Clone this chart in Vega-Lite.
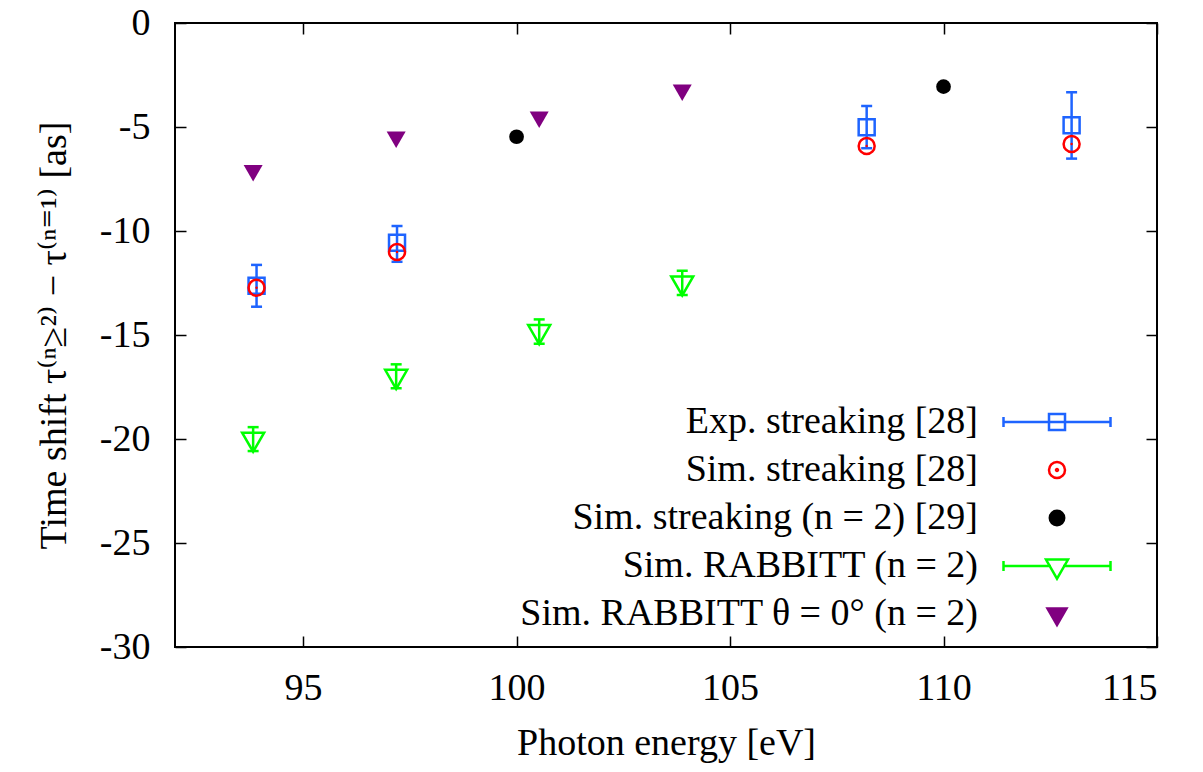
{
  "$schema": "https://vega.github.io/schema/vega-lite/v6.json",
  "width": 982,
  "height": 624,
  "autosize": {"type": "none"},
  "padding": {"left": 175, "top": 23, "right": 46, "bottom": 125},
  "background": "white",
  "config": {
    "view": {"stroke": "black", "strokeWidth": 2},
    "font": "Liberation Serif, DejaVu Serif, serif",
    "axis": {
      "labelFont": "Liberation Serif, DejaVu Serif, serif",
      "titleFont": "Liberation Serif, DejaVu Serif, serif",
      "labelFontSize": 38,
      "titleFontSize": 38,
      "titleFontWeight": "normal",
      "labelColor": "black",
      "titleColor": "black",
      "domain": false,
      "grid": false,
      "tickColor": "black",
      "tickWidth": 1.5,
      "tickSize": -11
    },
    "legend": {
      "orient": "none",
      "legendX": 863,
      "legendY": 380,
      "labelFont": "Liberation Serif, DejaVu Serif, serif",
      "labelFontSize": 38,
      "labelColor": "black",
      "labelAlign": "right",
      "labelOffset": -98,
      "labelLimit": 800,
      "symbolSize": 400,
      "symbolStrokeWidth": 2.5,
      "symbolOpacity": 1,
      "rowPadding": 10
    }
  },
  "data": {
    "values": [
      {"series": "Exp. streaking [28]", "energy": 93.91, "shift": -12.63, "lo": -13.64, "hi": -11.63},
      {"series": "Exp. streaking [28]", "energy": 97.2, "shift": -10.56, "lo": -11.48, "hi": -9.76},
      {"series": "Exp. streaking [28]", "energy": 108.2, "shift": -5.01, "lo": -6.02, "hi": -3.99},
      {"series": "Exp. streaking [28]", "energy": 113.0, "shift": -4.92, "lo": -6.52, "hi": -3.33},
      {"series": "Sim. streaking [28]", "energy": 93.91, "shift": -12.73},
      {"series": "Sim. streaking [28]", "energy": 97.2, "shift": -11.01},
      {"series": "Sim. streaking [28]", "energy": 108.2, "shift": -5.91},
      {"series": "Sim. streaking [28]", "energy": 113.0, "shift": -5.82},
      {"series": "Sim. streaking (n = 2) [29]", "energy": 100.0, "shift": -5.47},
      {"series": "Sim. streaking (n = 2) [29]", "energy": 110.0, "shift": -3.06},
      {"series": "Sim. RABBITT (n = 2)", "energy": 93.83, "shift": -20.0, "lo": -20.58, "hi": -19.43},
      {"series": "Sim. RABBITT (n = 2)", "energy": 97.18, "shift": -16.98, "lo": -17.56, "hi": -16.41},
      {"series": "Sim. RABBITT (n = 2)", "energy": 100.53, "shift": -14.83, "lo": -15.42, "hi": -14.25},
      {"series": "Sim. RABBITT (n = 2)", "energy": 103.88, "shift": -12.49, "lo": -13.08, "hi": -11.91},
      {"series": "Sim. RABBITT θ = 0° (n = 2)", "energy": 93.83, "shift": -7.09},
      {"series": "Sim. RABBITT θ = 0° (n = 2)", "energy": 97.18, "shift": -5.48},
      {"series": "Sim. RABBITT θ = 0° (n = 2)", "energy": 100.53, "shift": -4.52},
      {"series": "Sim. RABBITT θ = 0° (n = 2)", "energy": 103.88, "shift": -3.22}
    ]
  },
  "resolve": {"axis": {"x": "independent", "y": "independent"}},
  "layer": [
    {
      "transform": [{"filter": "datum.energy < 0"}],
      "mark": {"type": "point", "clip": true, "opacity": 1},
      "encoding": {
        "x": {"field": "energy", "type": "quantitative",
              "scale": {"domain": [92, 115], "nice": false, "zero": false},
              "axis": {"orient": "bottom", "values": [95, 100, 105, 110, 115], "title": "Photon energy [eV]", "labelPadding": 33, "titlePadding": 17}},
        "y": {"field": "shift", "type": "quantitative",
              "scale": {"domain": [-30, 0], "nice": false, "zero": false},
              "axis": {"orient": "left", "values": [0, -5, -10, -15, -20, -25, -30], "labelExpr": "toString(datum.value)", "title": "Time shift τ⁽ⁿ≥²⁾ − τ⁽ⁿ⁼¹⁾ [as]", "labelPadding": 36, "titlePadding": 26}},
        "shape": {"field": "series", "type": "nominal",
                  "scale": {"domain": ["Exp. streaking [28]", "Sim. streaking [28]", "Sim. streaking (n = 2) [29]", "Sim. RABBITT (n = 2)", "Sim. RABBITT θ = 0° (n = 2)"],
                            "range": [
                              "M-5.35,0H5.35M-5.35,-0.5V0.5M5.35,-0.5V0.5M-0.8,-0.8H0.8V0.8H-0.8Z",
                              "M0.8,0A0.8,0.8 0 1,1 -0.8,0A0.8,0.8 0 1,1 0.8,0ZM0.1,0A0.1,0.1 0 1,1 -0.1,0A0.1,0.1 0 1,1 0.1,0Z",
                              "M0.72,0A0.72,0.72 0 1,1 -0.72,0A0.72,0.72 0 1,1 0.72,0Z",
                              "M-5.35,0H-0.6M0.6,0H5.35M-5.35,-0.5V0.5M5.35,-0.5V0.5M-1.1,-0.64L1.1,-0.64L0,1.27Z",
                              "M-0.95,-0.55L0.95,-0.55L0,1.1Z"
                            ]},
                  "legend": {"title": null}},
        "stroke": {"field": "series", "type": "nominal",
                   "scale": {"domain": ["Exp. streaking [28]", "Sim. streaking [28]", "Sim. streaking (n = 2) [29]", "Sim. RABBITT (n = 2)", "Sim. RABBITT θ = 0° (n = 2)"],
                             "range": ["#1e64ff", "#ff0000", "#000000", "#00ff00", "#800080"]},
                   "legend": {"title": null}},
        "fill": {"field": "series", "type": "nominal",
                 "scale": {"domain": ["Exp. streaking [28]", "Sim. streaking [28]", "Sim. streaking (n = 2) [29]", "Sim. RABBITT (n = 2)", "Sim. RABBITT θ = 0° (n = 2)"],
                           "range": ["transparent", "transparent", "#000000", "transparent", "#800080"]},
                 "legend": {"title": null}}
      }
    },
    {
      "transform": [{"filter": "datum.energy < 0"}],
      "mark": {"type": "point"},
      "encoding": {
        "x": {"field": "energy", "type": "quantitative", "axis": {"orient": "top", "values": [95, 100, 105, 110, 115], "labels": false, "title": null}},
        "y": {"field": "shift", "type": "quantitative", "axis": {"orient": "right", "values": [0, -5, -10, -15, -20, -25, -30], "labels": false, "title": null}}
      }
    },
    {
      "transform": [{"filter": "datum.lo != null"}],
      "mark": {"type": "rule", "strokeWidth": 2.5},
      "encoding": {
        "x": {"field": "energy", "type": "quantitative", "axis": null},
        "y": {"field": "lo", "type": "quantitative", "axis": null},
        "y2": {"field": "hi"},
        "color": {"field": "series", "type": "nominal", "scale": {"domain": ["Exp. streaking [28]", "Sim. RABBITT (n = 2)"], "range": ["#1e64ff", "#00ff00"]}, "legend": null}
      }
    },
    {
      "transform": [{"filter": "datum.lo != null"}],
      "mark": {"type": "tick", "orient": "horizontal", "size": 11, "thickness": 2.5, "opacity": 1},
      "encoding": {
        "x": {"field": "energy", "type": "quantitative", "axis": null},
        "y": {"field": "lo", "type": "quantitative", "axis": null},
        "color": {"field": "series", "type": "nominal", "legend": null}
      }
    },
    {
      "transform": [{"filter": "datum.hi != null"}],
      "mark": {"type": "tick", "orient": "horizontal", "size": 11, "thickness": 2.5, "opacity": 1},
      "encoding": {
        "x": {"field": "energy", "type": "quantitative", "axis": null},
        "y": {"field": "hi", "type": "quantitative", "axis": null},
        "color": {"field": "series", "type": "nominal", "legend": null}
      }
    },
    {
      "transform": [{"filter": "datum.series == 'Exp. streaking [28]'"}],
      "mark": {"type": "point", "shape": "square", "filled": false, "size": 256, "stroke": "#1e64ff", "strokeWidth": 2.5, "opacity": 1},
      "encoding": {
        "x": {"field": "energy", "type": "quantitative", "axis": null},
        "y": {"field": "shift", "type": "quantitative", "axis": null}
      }
    },
    {
      "transform": [{"filter": "datum.series == 'Sim. streaking [28]'"}],
      "mark": {"type": "point", "shape": "circle", "filled": false, "size": 256, "stroke": "#ff0000", "strokeWidth": 2.5, "opacity": 1},
      "encoding": {
        "x": {"field": "energy", "type": "quantitative", "axis": null},
        "y": {"field": "shift", "type": "quantitative", "axis": null}
      }
    },
    {
      "transform": [{"filter": "datum.series == 'Sim. streaking [28]'"}],
      "mark": {"type": "point", "shape": "circle", "filled": true, "size": 6, "color": "#ff0000", "opacity": 1},
      "encoding": {
        "x": {"field": "energy", "type": "quantitative", "axis": null},
        "y": {"field": "shift", "type": "quantitative", "axis": null}
      }
    },
    {
      "transform": [{"filter": "datum.series == 'Sim. streaking (n = 2) [29]'"}],
      "mark": {"type": "point", "shape": "circle", "filled": true, "size": 216, "color": "#000000", "opacity": 1},
      "encoding": {
        "x": {"field": "energy", "type": "quantitative", "axis": null},
        "y": {"field": "shift", "type": "quantitative", "axis": null}
      }
    },
    {
      "transform": [{"filter": "datum.series == 'Sim. RABBITT (n = 2)'"}],
      "mark": {"type": "point", "shape": "M-1,-0.577L1,-0.577L0,1.155Z", "filled": false, "size": 484, "stroke": "#00ff00", "strokeWidth": 2.5, "opacity": 1},
      "encoding": {
        "x": {"field": "energy", "type": "quantitative", "axis": null},
        "y": {"field": "shift", "type": "quantitative", "axis": null}
      }
    },
    {
      "transform": [{"filter": "datum.series == 'Sim. RABBITT θ = 0° (n = 2)'"}],
      "mark": {"type": "point", "shape": "M-1,-0.577L1,-0.577L0,1.155Z", "filled": true, "size": 361, "color": "#800080", "opacity": 1},
      "encoding": {
        "x": {"field": "energy", "type": "quantitative", "axis": null},
        "y": {"field": "shift", "type": "quantitative", "axis": null}
      }
    }
  ]
}
